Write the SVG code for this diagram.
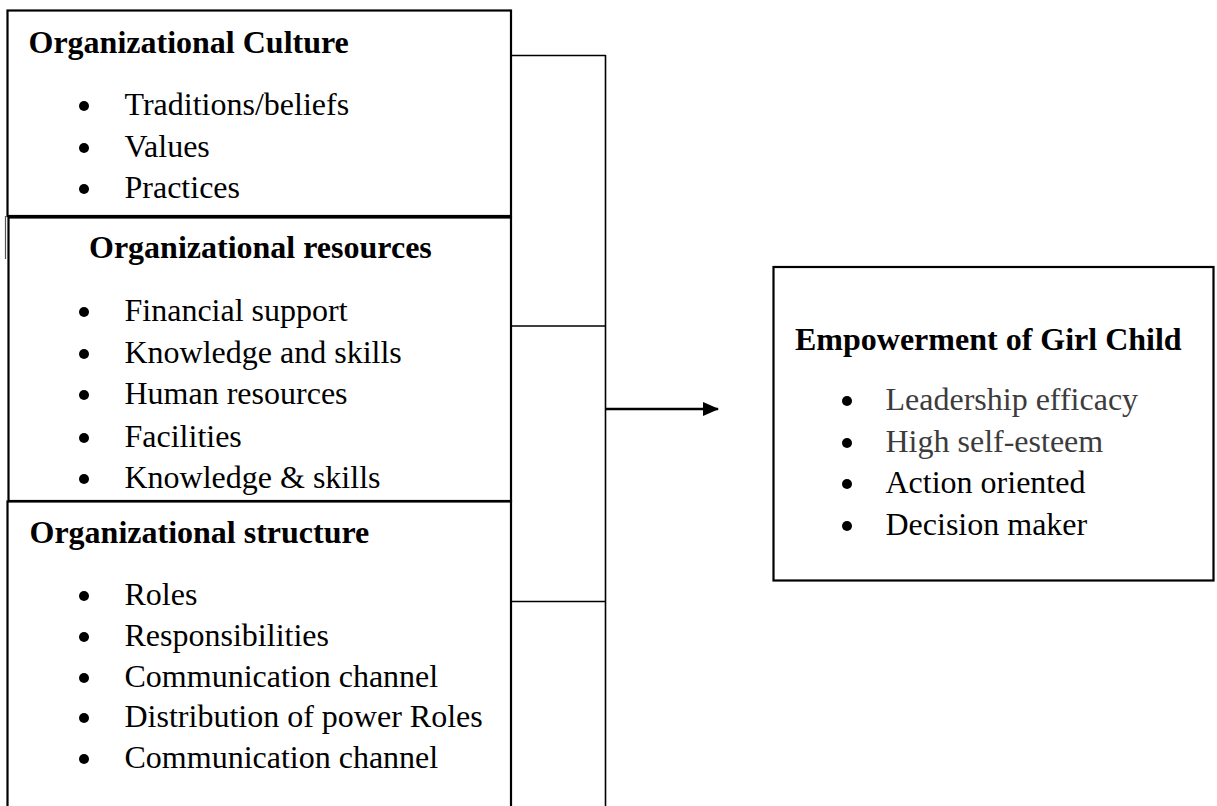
<svg xmlns="http://www.w3.org/2000/svg" width="1217" height="806" viewBox="0 0 1217 806">
  <style>
    .box { fill: #ffffff; stroke: #000000; stroke-width: 2.2; }
    .title { font-family: "Liberation Serif", "Times New Roman", serif; font-size: 32px; font-weight: bold; fill: #000000; }
    .item { font-family: "Liberation Serif", "Times New Roman", serif; font-size: 32px; fill: #000000; }
    .grey { fill: #3c3c3c; }
    .dot { fill: #000000; }
    .link { fill: none; stroke: #000000; stroke-width: 1.6; }
    .arrow { fill: none; stroke: #000000; stroke-width: 2.6; }
  </style>
  <defs>
    <marker id="head" markerWidth="16" markerHeight="14" refX="15" refY="7" orient="auto" markerUnits="userSpaceOnUse">
      <path d="M0,0 L16,7 L0,14 Z" fill="#000000"/>
    </marker>
  </defs>
  <rect width="1217" height="806" fill="#ffffff"/>

  <!-- connectors -->
  <g id="connectors">
    <line class="link" x1="511" y1="55.5" x2="605.5" y2="55.5"/>
    <line class="link" x1="511" y1="326" x2="605.5" y2="326"/>
    <line class="link" x1="506" y1="601.5" x2="605.5" y2="601.5"/>
    <line class="link" x1="605.5" y1="55" x2="605.5" y2="806"/>
    <line class="arrow" x1="605.5" y1="409" x2="718" y2="409" marker-end="url(#head)"/>
  </g>

  <!-- left column: culture -->
  <g id="culture">
    <rect class="box" x="7.5" y="10.5" width="503.5" height="205.5"/>
    <text class="title" x="28.5" y="53">Organizational Culture</text>
    <circle class="dot" cx="84" cy="106" r="5"/>
    <text class="item" x="124.5" y="115">Traditions/beliefs</text>
    <circle class="dot" cx="84" cy="148" r="5"/>
    <text class="item" x="124.5" y="157">Values</text>
    <circle class="dot" cx="84" cy="189" r="5"/>
    <text class="item" x="124.5" y="198">Practices</text>
  </g>

  <!-- left column: resources -->
  <g id="resources">
    <rect class="box" x="8.5" y="217.5" width="502.5" height="283.5"/>
    <line x1="5.5" y1="216" x2="5.5" y2="259" stroke="#555555" stroke-width="1.2"/>
    <text class="title" x="89" y="258">Organizational resources</text>
    <circle class="dot" cx="84" cy="312" r="5"/>
    <text class="item" x="124.5" y="321">Financial support</text>
    <circle class="dot" cx="84" cy="354" r="5"/>
    <text class="item" x="124.5" y="363">Knowledge and skills</text>
    <circle class="dot" cx="84" cy="395" r="5"/>
    <text class="item" x="124.5" y="404">Human resources</text>
    <circle class="dot" cx="84" cy="438" r="5"/>
    <text class="item" x="124.5" y="447">Facilities</text>
    <circle class="dot" cx="84" cy="479" r="5"/>
    <text class="item" x="124.5" y="488">Knowledge &amp; skills</text>
  </g>

  <!-- left column: structure -->
  <g id="structure">
    <rect class="box" x="7.5" y="501.5" width="503.5" height="320"/>
    <text class="title" x="29.5" y="543">Organizational structure</text>
    <circle class="dot" cx="84" cy="596" r="5"/>
    <text class="item" x="124.5" y="605">Roles</text>
    <circle class="dot" cx="84" cy="637" r="5"/>
    <text class="item" x="124.5" y="646">Responsibilities</text>
    <circle class="dot" cx="84" cy="678" r="5"/>
    <text class="item" x="124.5" y="687">Communication channel</text>
    <circle class="dot" cx="84" cy="718" r="5"/>
    <text class="item" x="124.5" y="727">Distribution of power Roles</text>
    <circle class="dot" cx="84" cy="759" r="5"/>
    <text class="item" x="124.5" y="768">Communication channel</text>
  </g>

  <!-- outcome -->
  <g id="empowerment">
    <rect class="box" x="773.5" y="267" width="440" height="313.5"/>
    <text class="title" x="795" y="350">Empowerment of Girl Child</text>
    <circle class="dot grey" cx="847" cy="401" r="5"/>
    <text class="item grey" x="885.5" y="410">Leadership efficacy</text>
    <circle class="dot grey" cx="847" cy="443" r="5"/>
    <text class="item grey" x="885.5" y="452">High self-esteem</text>
    <circle class="dot" cx="847" cy="484" r="5"/>
    <text class="item" x="885.5" y="493">Action oriented</text>
    <circle class="dot" cx="847" cy="526" r="5"/>
    <text class="item" x="885.5" y="535">Decision maker</text>
  </g>
</svg>
